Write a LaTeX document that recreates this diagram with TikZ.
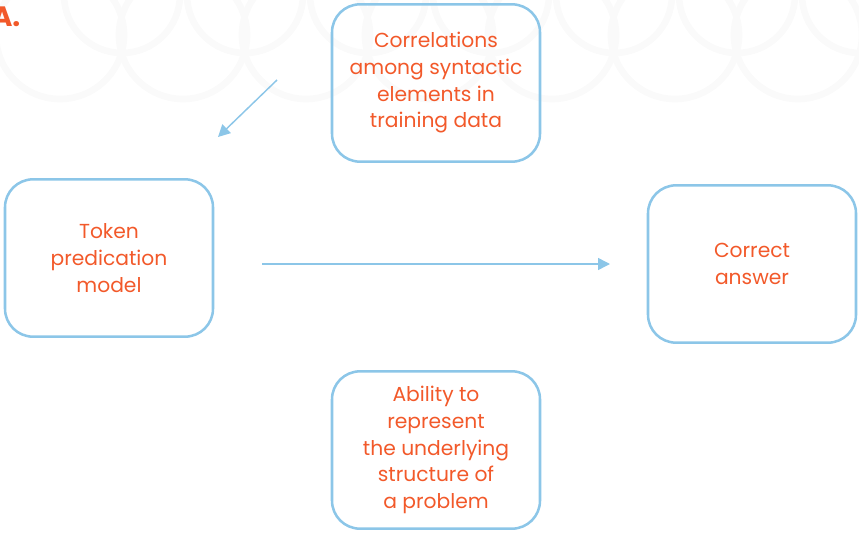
\documentclass[tikz,border=0pt]{standalone}
\usepackage{fontspec}
\setmainfont{Poppins}
\usepackage{tikz}
\usetikzlibrary{arrows.meta}
\definecolor{boxcol}{HTML}{8CC6E8}
\definecolor{txtcol}{HTML}{F2592A}
\tikzset{>={Triangle[length=9pt,width=9pt]}}
\tikzset{card/.style={draw=boxcol, line width=1.9pt, rounded corners=21pt,
    minimum width=156pt, minimum height=118pt, align=center,
    text=txtcol, font=\fontsize{15.2}{20}\selectfont}}
\tikzset{link/.style={boxcol, line width=1.1pt, ->}}

\begin{document}
\begin{tikzpicture}[x=0.75pt,y=-0.75pt]
                    \useasboundingbox (0,0) rectangle (859,532);
                    % faint rings along the top edge
                    \foreach \cx in {60,183,306,429,552,675,798}
                        \draw[black!2, line width=5pt] (\cx,35) circle (64);
                    \foreach \cx in {122,245,368,491,614,737,860}
                        \draw[black!2, line width=5pt] (\cx,-5) circle (58);

                    \node[text=txtcol, font=\bfseries\fontsize{21}{21}\selectfont, anchor=east] (tag) at (25,17) {A.};

                    \node[card] (corr) at (436,83) {Correlations\\among syntactic\\elements in\\training data};
                    \node[card] (tok) at (109,258) {Token\\predication\\model};
                    \node[card] (ans) at (752,264) {Correct\\answer};
                    \node[card] (abil) at (436,450) {Ability to\\represent\\the underlying\\structure of\\a problem};

                    \coordinate (dfrom) at (277,80);
                    \coordinate (dto) at (218,137);
                    \coordinate (hfrom) at (262,264);
                    \coordinate (hto) at (610,264);

                    \draw[link] (dfrom) -- (dto);
                    \draw[link] (hfrom) -- (hto);
                \end{tikzpicture}
\end{document}
